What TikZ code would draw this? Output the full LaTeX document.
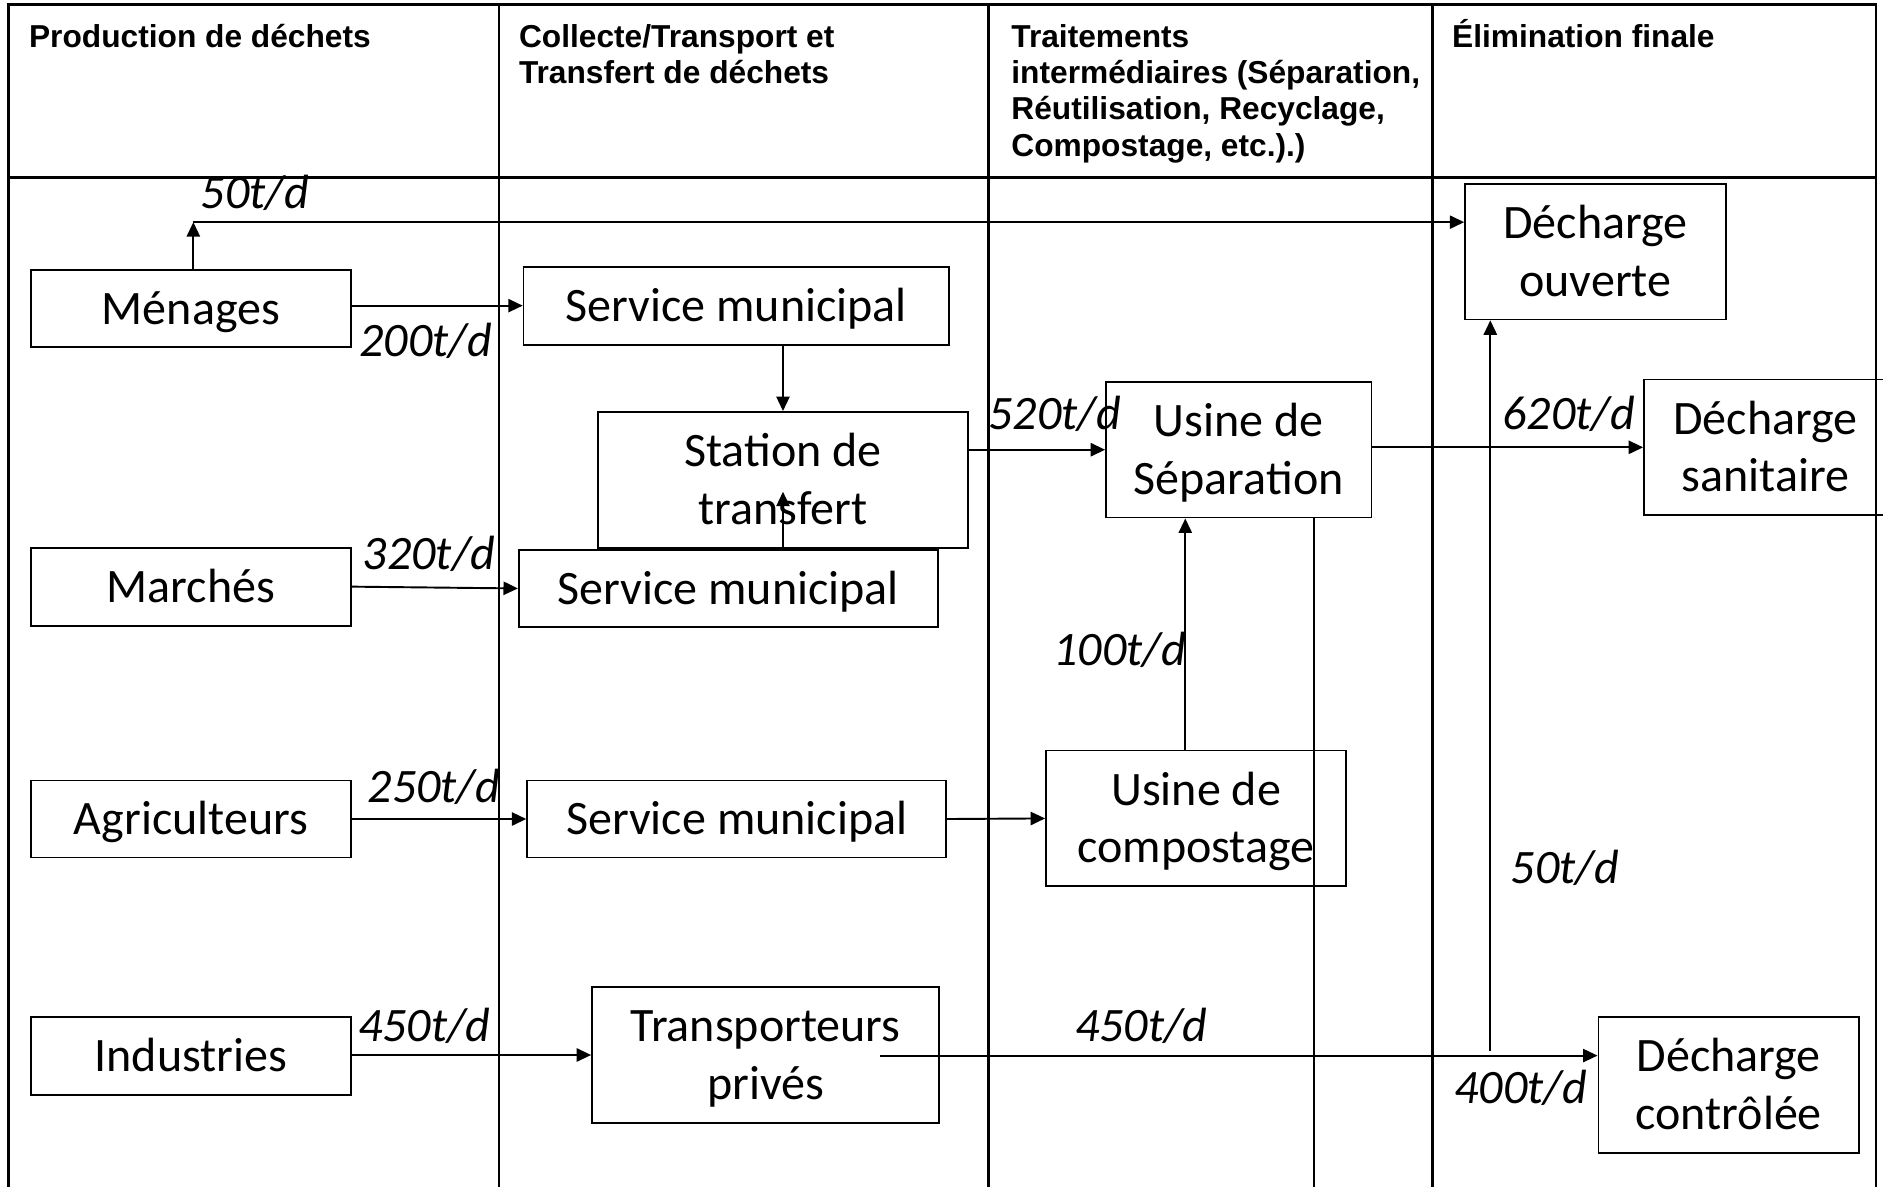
\documentclass[tikz,border=0pt]{standalone}
\usepackage{fontspec}
\setmainfont{Carlito}
\newfontfamily\hdrfont{Liberation Sans}
\usetikzlibrary{arrows.meta}
\newcommand\bs{\rule[-11pt]{0pt}{48pt}}
\newcommand\hs{\rule{0pt}{24pt}}
\begin{document}
\begin{tikzpicture}[x=1pt,y=-1pt,
  grid/.style={line width=2.2pt},
  box/.style={draw, line width=1.5pt, inner sep=0pt, align=center, font=\fontsize{40}{48}\selectfont},
  lbl/.style={anchor=base west, inner sep=0pt, font=\fontsize{40}{48}\selectfont\itshape},
  hdr/.style={anchor=north west, inner sep=0pt, align=left, font=\hdrfont\bfseries\fontsize{26.4}{30.2}\selectfont},
  arr/.style={line width=1.6pt, -{Triangle[length=12pt,width=11pt]}},
  ln/.style={line width=1.6pt}]
\useasboundingbox (0,0) rectangle (1568,988);
% table grid
\draw[grid] (7,992) -- (7,4) -- (1562,4) -- (1562,992);
\draw[grid] (7,148) -- (1562,148);
\draw[grid] (415.5,4) -- (415.5,992);
\draw[grid] (823,4) -- (823,992);
\draw[grid] (1193,4) -- (1193,992);
% headers
\node[hdr] (h1) at (24,15.3) {\hs Production de déchets};
\node[hdr] (h2) at (432,15.3) {\hs Collecte/Transport et\\Transfert de déchets};
\node[hdr] (h3) at (842,15.3) {\hs Traitements\\intermédiaires (Séparation,\\Réutilisation, Recyclage,\\Compostage, etc.).)};
\node[hdr] (h4) at (1209,15.3) {\hs Élimination finale};
% boxes
\node[box, minimum width=266pt, minimum height=64pt] (men) at (159,257) {\bs Ménages};
\node[box, minimum width=266pt, minimum height=65pt] (mar) at (159,488.5) {\bs Marchés};
\node[box, minimum width=266pt, minimum height=64pt] (agr) at (159,682) {\bs Agriculteurs};
\node[box, minimum width=266pt, minimum height=65pt] (ind) at (159,879.5) {\bs Industries};
\node[box, minimum width=354pt, minimum height=65pt] (sm1) at (613,254.5) {\bs Service municipal};
\node[box, minimum width=308pt, minimum height=113pt] (st) at (652,399.5) {\bs Station de\\\bs transfert};
\node[box, minimum width=349pt, minimum height=64pt] (sm2) at (606.5,490) {\bs Service municipal};
\node[box, minimum width=349pt, minimum height=64pt] (sm3) at (613.5,682) {\bs Service municipal};
\node[box, minimum width=289pt, minimum height=113pt] (tra) at (637.5,878.5) {\bs Transporteurs\\\bs privés};
\node[box, minimum width=221pt, minimum height=113pt] (sep) at (1031.5,374.5) {\bs Usine de\\\bs Séparation};
\node[box, minimum width=250pt, minimum height=113pt] (com) at (996,681.5) {\bs Usine de\\\bs compostage};
\node[box, minimum width=217pt, minimum height=113pt] (dou) at (1328.5,209.5) {\bs Décharge\\\bs ouverte};
\node[box, minimum width=202pt, minimum height=113pt] (san) at (1470,372.5) {\bs Décharge\\\bs sanitaire};
\node[box, minimum width=217pt, minimum height=113pt] (dco) at (1439.5,903.5) {\bs Décharge\\\bs contrôlée};
% helper coordinates
\coordinate (c50) at (161,185);
\coordinate (v100) at (987,0);
\coordinate (vb) at (1094,992);
\coordinate (t0) at (733,879);
\coordinate (v50) at (1241,875);
% connectors
\draw[arr] (men.north -| c50) -- (c50);
\draw[arr] (c50) -- (c50 -| dou.west);
\draw[arr] (sm1.west -| men.east) -- (sm1.west);
\draw[arr] (sm1.south -| st.north) -- (st.north);
\draw[arr] (sm2.north -| st.north) -- ([yshift=-10pt]st.center);
\draw[arr] (mar.east) -- (sm2.west);
\draw[arr] (sep.west -| st.east) -- (sep.west);
\draw[arr] (san.west -| sep.east) -- (san.west);
\draw[arr] (agr.east) -- (sm3.west);
\draw[arr] (sm3.east) -- (com.west);
\draw[arr] (com.north -| v100) -- (sep.south -| v100);
\draw[arr] (tra.west -| ind.east) -- (tra.west);
\draw[arr] (t0) -- (t0 -| dco.west);
\draw[arr] (v50) -- (v50 |- dou.south);
\draw[ln] (sep.south -| vb) -- (vb);
% labels
\node[lbl] (l1) at (167,174) {50t/d};
\node[lbl] (l2) at (299,297) {200t/d};
\node[lbl] (l3) at (302,474) {320t/d};
\node[lbl] (l4) at (306,668) {250t/d};
\node[lbl] (l5) at (298,867) {450t/d};
\node[lbl] (l6) at (823,358) {520t/d};
\node[lbl] (l7) at (1251,358) {620t/d};
\node[lbl] (l8) at (877,554) {100t/d};
\node[lbl] (l9) at (895,867) {450t/d};
\node[lbl] (l10) at (1258,736) {50t/d};
\node[lbl] (l11) at (1211,919) {400t/d};
\end{tikzpicture}
\end{document}
